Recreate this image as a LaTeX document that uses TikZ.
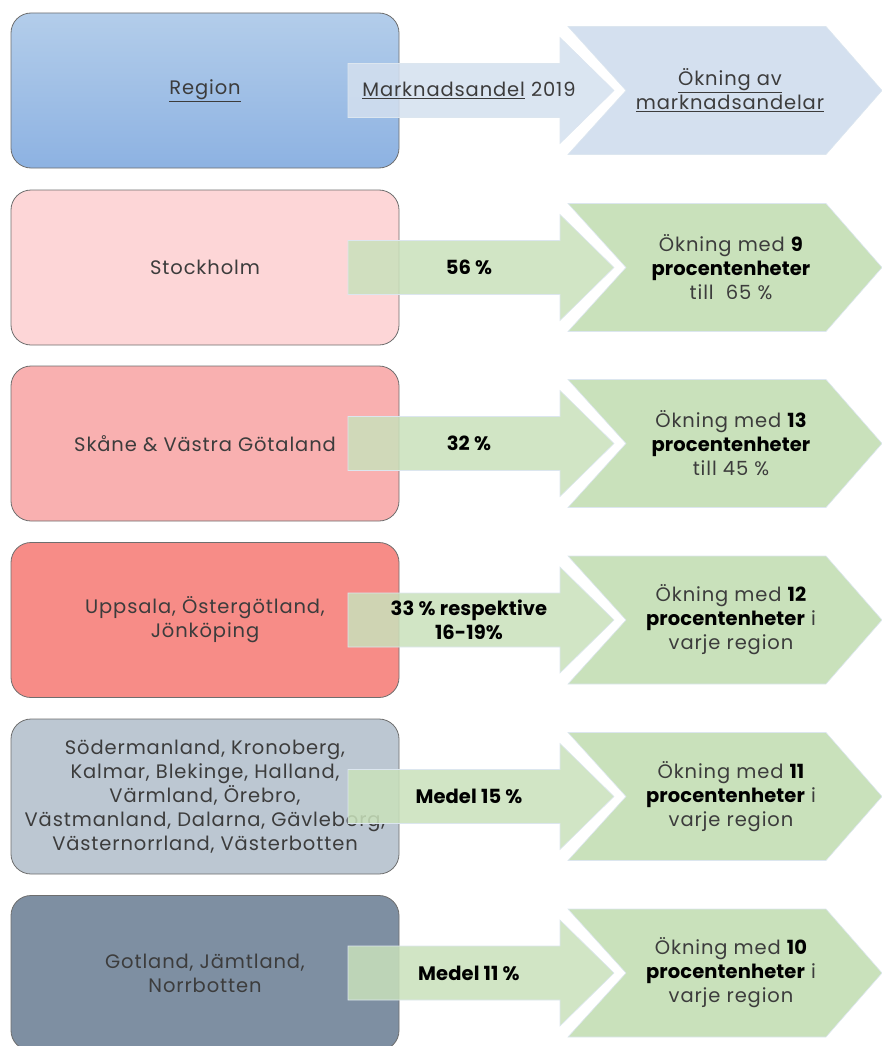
\documentclass[tikz,border=0pt]{standalone}
\usepackage{fontspec}
\setmainfont{Poppins}[LetterSpace=4.5, BoldFeatures={LetterSpace=0.5}]
\definecolor{boxline}{HTML}{6E6E6E}
\definecolor{txt}{HTML}{3C3C3C}
\definecolor{hdtop}{HTML}{B3CDEA}
\definecolor{hdbot}{HTML}{8DB2E2}
\definecolor{hdarrow}{HTML}{D4E0EF}
\definecolor{grarrow}{HTML}{C9E1BB}
\definecolor{arrline}{HTML}{DCE6EF}
\definecolor{cA}{HTML}{FDD6D7}
\definecolor{cB}{HTML}{F9B0B0}
\definecolor{cC}{HTML}{F78C87}
\definecolor{cD}{HTML}{BCC7D2}
\definecolor{cE}{HTML}{7E8FA2}
\newcommand{\arrowat}[2]{%
  \fill[#2, fill opacity=0.85] (348,#1-27) -- (560,#1-27) -- (560,#1-53) -- (614,#1) -- (560,#1+53) -- (560,#1+27) -- (348,#1+27) -- cycle;
  \draw[arrline, line width=0.6pt] (348,#1-27) -- (560,#1-27) -- (560,#1-53) -- (614,#1) -- (560,#1+53) -- (560,#1+27) -- (348,#1+27) -- cycle;
  \fill[#2] (568,#1-64) -- (826,#1-64) -- (882,#1) -- (826,#1+64) -- (568,#1+64) -- (626,#1) -- cycle;
  \draw[arrline, line width=0.6pt] (568,#1-64) -- (826,#1-64) -- (882,#1) -- (826,#1+64) -- (568,#1+64) -- (626,#1) -- cycle;}
\begin{document}
\begin{tikzpicture}[x=1pt,y=-1pt,
  regbox/.style={draw=boxline, line width=0.8pt, rounded corners=20pt,
    minimum width=388pt, minimum height=155pt, inner sep=0pt,
    align=center, text=txt, font=\fontsize{19.5}{24}\selectfont},
  arrtxt/.style={align=center, text=black, inner sep=0pt, font=\fontsize{19.5}{24}\selectfont},
  chevtxt/.style={align=center, text=txt, inner sep=0pt, font=\fontsize{19.5}{24}\selectfont}]
\useasboundingbox (0,0) rectangle (882,1046);
% boxes
\node[regbox, top color=hdtop, bottom color=hdbot] (r0) at (205,90.5) {\underline{Region}};
\node[regbox, fill=cA] (r1) at (205,267.5) {Stockholm};
\node[regbox, fill=cB] (r2) at (205,443.5) {Skåne \& Västra Götaland};
\node[regbox, fill=cC] (r3) at (205,620) {Uppsala, Östergötland,\\Jönköping};
\node[regbox, fill=cD] (r4) at (205,796.5) {Södermanland, Kronoberg,\\Kalmar, Blekinge, Halland,\\Värmland, Örebro,\\Västmanland, Dalarna, Gävleborg,\\Västernorrland, Västerbotten};
\node[regbox, fill=cE] (r5) at (205,973) {Gotland, Jämtland,\\Norrbotten};
% arrows and chevrons
\arrowat{90.5}{hdarrow}
\arrowat{267.5}{grarrow}
\arrowat{443.5}{grarrow}
\arrowat{620}{grarrow}
\arrowat{796.5}{grarrow}
\arrowat{973}{grarrow}
% arrow texts
\node[arrtxt, text=txt] (a0) at (469,90.5) {\underline{Marknadsandel} 2019};
\node[arrtxt] (a1) at (469,267.5) {\textbf{56 \%}};
\node[arrtxt] (a2) at (469,443.5) {\textbf{32 \%}};
\node[arrtxt] (a3) at (469,620) {\textbf{33 \% respektive}\\\textbf{16-19\%}};
\node[arrtxt] (a4) at (469,796.5) {\textbf{Medel 15 \%}};
\node[arrtxt] (a5) at (469,973) {\textbf{Medel 11 \%}};
% chevron texts
\node[chevtxt] (c0) at (730,90.5) {\underline{Ökning av}\\\underline{marknadsandelar}};
\node[chevtxt] (c1) at (731,267.5) {Ökning med \textcolor{black}{\textbf{9}}\\\textcolor{black}{\textbf{procentenheter}}\\till~ 65 \%};
\node[chevtxt] (c2) at (731,443.5) {Ökning med \textcolor{black}{\textbf{13}}\\\textcolor{black}{\textbf{procentenheter}}\\till 45 \%};
\node[chevtxt] (c3) at (731,620) {Ökning med \textcolor{black}{\textbf{12}}\\\textcolor{black}{\textbf{procentenheter}} i\\varje region};
\node[chevtxt] (c4) at (731,796.5) {Ökning med \textcolor{black}{\textbf{11}}\\\textcolor{black}{\textbf{procentenheter}} i\\varje region};
\node[chevtxt] (c5) at (731,973) {Ökning med \textcolor{black}{\textbf{10}}\\\textcolor{black}{\textbf{procentenheter}} i\\varje region};
\end{tikzpicture}
\end{document}
